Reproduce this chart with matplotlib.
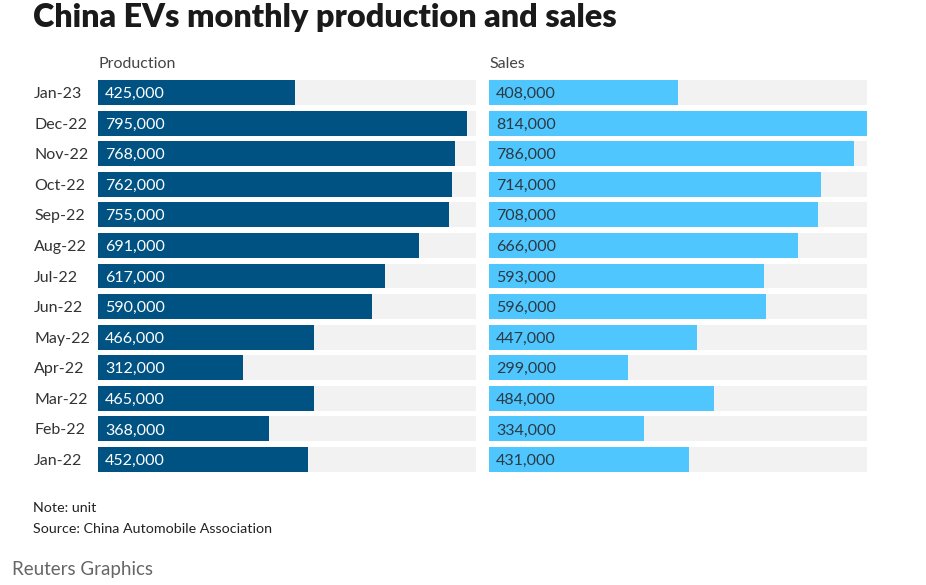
import matplotlib
matplotlib.use('Agg')
from matplotlib import pyplot as plt

months = ['Jan-23', 'Dec-22', 'Nov-22', 'Oct-22', 'Sep-22', 'Aug-22', 'Jul-22',
          'Jun-22', 'May-22', 'Apr-22', 'Mar-22', 'Feb-22', 'Jan-22']
production = [425000, 795000, 768000, 762000, 755000, 691000, 617000,
              590000, 466000, 312000, 465000, 368000, 452000]
sales = [408000, 814000, 786000, 714000, 708000, 666000, 593000,
         596000, 447000, 299000, 484000, 334000, 431000]

W, H = 926, 585
plt.rcParams['font.family'] = ['Lato', 'DejaVu Sans']

fig = plt.figure(figsize=(W / 100, H / 100), dpi=100)
fig.patch.set_facecolor('white')

xmax = max(max(production), max(sales))
top, bottom = 80, 472
bar_h = 25 / 30.6


def panel(left, values, colour, txt_colour, title):
    ax = fig.add_axes([left / W, 1 - bottom / H, 378 / W, (bottom - top) / H])
    y = list(range(len(values)))
    ax.barh(y, [xmax] * len(values), height=bar_h, color='#f2f2f2')
    ax.barh(y, values, height=bar_h, color=colour)
    for i, v in enumerate(values):
        ax.text(7 / 378 * xmax, i, f'{v:,}', va='center_baseline', ha='left',
                fontsize=11.5, color=txt_colour)
    ax.set_xlim(0, xmax)
    ax.set_ylim(len(values) - 1 + bar_h / 2, -bar_h / 2)
    ax.axis('off')
    fig.text(left / W, 1 - 63 / H, title, fontsize=11.5, color='#444444',
             va='center_baseline', ha='left')
    return ax


ax1 = panel(98, production, '#005283', 'white', 'Production')
ax2 = panel(489, sales, '#4fc6fd', '#2b3a44', 'Sales')

for i, m in enumerate(months):
    ax1.text(-64 / 378 * xmax, i, m, va='center_baseline', ha='left', fontsize=11.5,
             color='#333333')

fig.text(33 / W, 1 - 18 / H, 'China EVs monthly production and sales',
         fontsize=23.2, fontweight='heavy', color='#1a1a1a', va='center', ha='left')
fig.text(33 / W, 1 - 508 / H, 'Note: unit', fontsize=10.3, color='#222222',
         va='center', ha='left')
fig.text(33 / W, 1 - 529 / H, 'Source: China Automobile Association', fontsize=10.3,
         color='#222222', va='center', ha='left')
fig.text(12 / W, 1 - 569 / H, 'Reuters Graphics', fontsize=13.5, color='#666666',
         va='center', ha='left')

fig.savefig('out.png', dpi=100, facecolor='white')
